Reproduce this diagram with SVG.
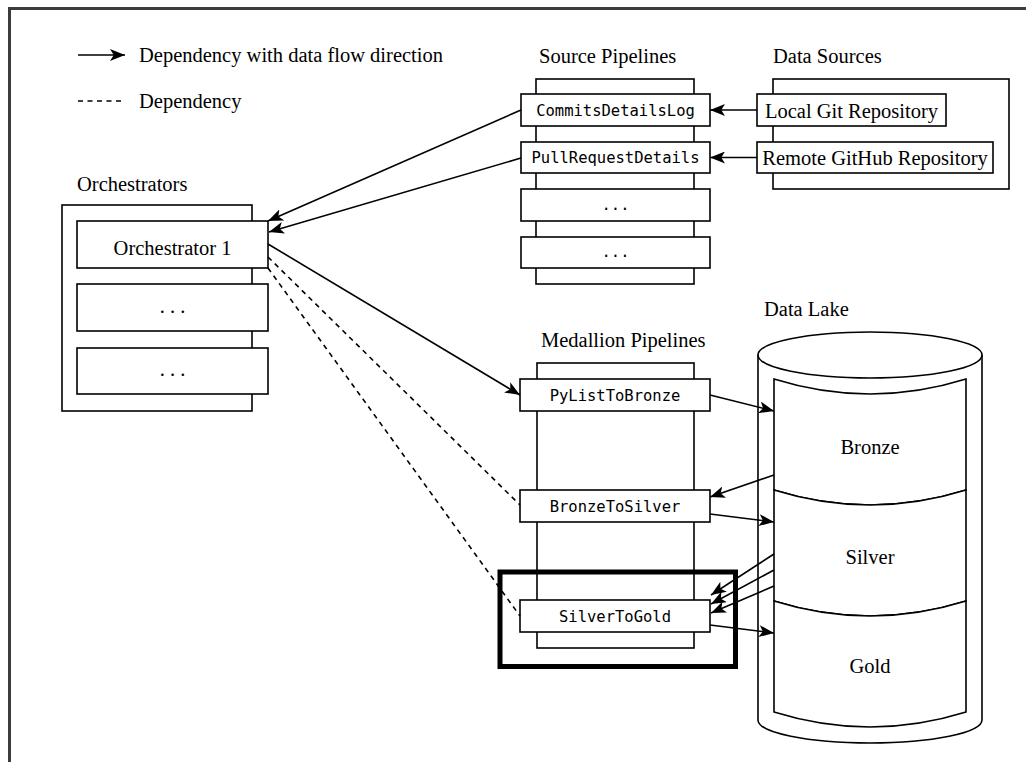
<svg xmlns="http://www.w3.org/2000/svg" width="1026" height="762" viewBox="0 0 1026 762">
  <style>
    .box { fill: #ffffff; stroke: #000000; stroke-width: 1.6; }
    .frame { fill: none; stroke: #3c3c3c; stroke-width: 3; }
    .serif { font-family: "Liberation Serif", "Times New Roman", serif; font-size: 20.5px; fill: #000000; }
    .mono { font-family: "DejaVu Sans Mono", "Liberation Mono", monospace; font-size: 15.5px; fill: #000000; }
    .mid { text-anchor: middle; }
    .edge { fill: none; stroke: #000000; stroke-width: 1.6; }
    .dashed { stroke-dasharray: 5 4.5; }
  </style>
  <defs>
    <marker id="arrow" viewBox="0 0 10 8" refX="10" refY="4" markerWidth="15" markerHeight="12" markerUnits="userSpaceOnUse" orient="auto">
      <path d="M0,0 L10,4 L0,8 L2.5,4 Z" fill="#000000"/>
    </marker>
  </defs>

  <rect width="1026" height="762" fill="#ffffff"/>
  <rect class="frame" x="9.5" y="8.5" width="1100" height="900"/>

  <!-- legend -->
  <g id="legend">
    <line class="edge" x1="78" y1="55" x2="125" y2="55" marker-end="url(#arrow)"/>
    <text class="serif" x="139" y="62">Dependency with data flow direction</text>
    <line class="edge dashed" x1="78" y1="101" x2="121" y2="101"/>
    <text class="serif" x="139" y="108">Dependency</text>
  </g>

  <!-- orchestrators -->
  <g id="orchestrators">
    <text class="serif" x="77" y="191">Orchestrators</text>
    <rect class="box" x="62" y="205" width="190" height="206"/>
    <g id="orchestrator-1">
      <rect class="box" x="77" y="221" width="191" height="47"/>
      <text class="serif mid" x="172.5" y="255">Orchestrator 1</text>
    </g>
    <g id="orchestrator-2">
      <rect class="box" x="77" y="284" width="191" height="47"/>
      <text class="serif mid" x="172.5" y="313">. . .</text>
    </g>
    <g id="orchestrator-3">
      <rect class="box" x="77" y="348" width="191" height="46"/>
      <text class="serif mid" x="172.5" y="376">. . .</text>
    </g>
  </g>

  <!-- source pipelines -->
  <g id="source-pipelines">
    <text class="serif" x="539" y="63">Source Pipelines</text>
    <rect class="box" x="536" y="79" width="158" height="205"/>
    <g id="commits-details-log">
      <rect class="box" x="521" y="94" width="189" height="32"/>
      <text class="mono mid" x="615.5" y="115.5">CommitsDetailsLog</text>
    </g>
    <g id="pull-request-details">
      <rect class="box" x="521" y="142" width="189" height="31"/>
      <text class="mono mid" x="615.5" y="162.5">PullRequestDetails</text>
    </g>
    <g id="source-3">
      <rect class="box" x="521" y="189" width="189" height="32"/>
      <text class="mono mid" x="615.5" y="210">...</text>
    </g>
    <g id="source-4">
      <rect class="box" x="521" y="237" width="189" height="31"/>
      <text class="mono mid" x="615.5" y="257">...</text>
    </g>
  </g>

  <!-- data sources -->
  <g id="data-sources">
    <text class="serif" x="773" y="63">Data Sources</text>
    <rect class="box" x="773" y="79" width="236" height="110"/>
    <g id="local-git">
      <rect class="box" x="757" y="94" width="189" height="32"/>
      <text class="serif mid" x="851.5" y="118">Local Git Repository</text>
    </g>
    <g id="remote-github">
      <rect class="box" x="757" y="142" width="236" height="31"/>
      <text class="serif mid" x="875" y="165">Remote GitHub Repository</text>
    </g>
  </g>

  <!-- medallion pipelines -->
  <g id="medallion-pipelines">
    <text class="serif" x="541" y="347">Medallion Pipelines</text>
    <rect class="box" x="537" y="363" width="157" height="285"/>
    <g id="py-list-to-bronze">
      <rect class="box" x="520" y="379" width="190" height="32"/>
      <text class="mono mid" x="615" y="400.5">PyListToBronze</text>
    </g>
    <g id="bronze-to-silver">
      <rect class="box" x="520" y="490" width="190" height="32"/>
      <text class="mono mid" x="615" y="511.5">BronzeToSilver</text>
    </g>
    <g id="silver-to-gold">
      <rect class="box" x="520" y="600" width="190" height="32"/>
      <text class="mono mid" x="615" y="621.5">SilverToGold</text>
    </g>
    <rect id="highlight" x="500" y="572" width="235.5" height="94.5" fill="none" stroke="#000000" stroke-width="5"/>
  </g>

  <!-- data lake -->
  <g id="data-lake">
    <text class="serif" x="764" y="316">Data Lake</text>
    <path class="box" d="M758,355 A112,23 0 0 1 982,355 L982,720 A112,23 0 0 1 758,720 Z"/>
    <path class="edge" d="M758,355 A112,23 0 0 0 982,355"/>
    <g id="bronze">
      <path class="box" d="M774,379 Q870,409 966,379 L966,490 Q870,520 774,490 Z"/>
      <text class="serif mid" x="870" y="454">Bronze</text>
    </g>
    <g id="silver">
      <path class="box" d="M774,490 Q870,520 966,490 L966,601 Q870,631 774,601 Z"/>
      <text class="serif mid" x="870" y="564">Silver</text>
    </g>
    <g id="gold">
      <path class="box" d="M774,601 Q870,631 966,601 L966,712 Q870,742 774,712 Z"/>
      <text class="serif mid" x="870" y="673">Gold</text>
    </g>
  </g>

  <!-- connectors -->
  <g id="connectors">
    <line class="edge" x1="521" y1="110" x2="268" y2="221" marker-end="url(#arrow)"/>
    <line class="edge" x1="521" y1="158" x2="269" y2="232" marker-end="url(#arrow)"/>
    <line class="edge" x1="757" y1="110" x2="710" y2="110" marker-end="url(#arrow)"/>
    <line class="edge" x1="757" y1="157.5" x2="710" y2="157.5" marker-end="url(#arrow)"/>
    <line class="edge" x1="268" y1="244" x2="520" y2="395" marker-end="url(#arrow)"/>
    <line class="edge dashed" x1="268" y1="257" x2="520" y2="505"/>
    <line class="edge dashed" x1="268" y1="268" x2="520" y2="616"/>
    <line class="edge" x1="710" y1="395" x2="774" y2="411" marker-end="url(#arrow)"/>
    <line class="edge" x1="774" y1="475" x2="710" y2="497" marker-end="url(#arrow)"/>
    <line class="edge" x1="710" y1="514" x2="774" y2="522" marker-end="url(#arrow)"/>
    <line class="edge" x1="774" y1="554" x2="711" y2="595" marker-end="url(#arrow)"/>
    <line class="edge" x1="774" y1="570" x2="711" y2="604" marker-end="url(#arrow)"/>
    <line class="edge" x1="774" y1="586" x2="711" y2="613" marker-end="url(#arrow)"/>
    <line class="edge" x1="710" y1="625" x2="774" y2="633" marker-end="url(#arrow)"/>
  </g>
</svg>
